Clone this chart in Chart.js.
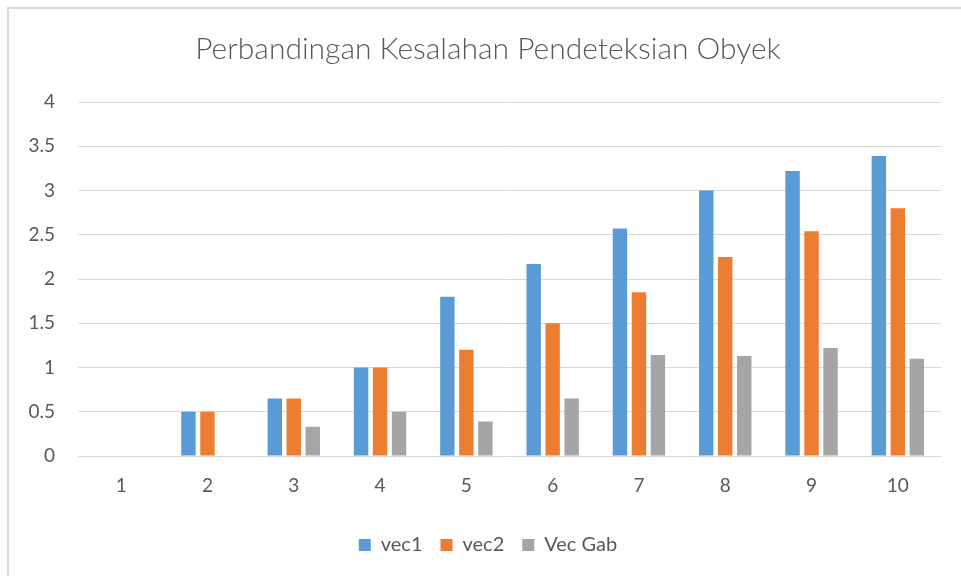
<!DOCTYPE html>
<html>
<head>
<meta charset="utf-8">
<script src="https://cdn.jsdelivr.net/npm/chart.js@4.4.1/dist/chart.umd.min.js"></script>
<style>
  html, body { margin: 0; padding: 0; width: 961px; height: 576px; overflow: hidden; background: #fff; }
  #frame { position: absolute; left: 7px; top: 7px; width: 980px; height: 600px;
           border-left: 2px solid #d9d9d9; border-top: 2px solid #d9d9d9; }
  #wrap { position: absolute; left: 9px; top: 9px; width: 958px; height: 567px; }
</style>
</head>
<body>
<div id="frame"></div>
<div id="wrap"><canvas id="c" width="958" height="567"></canvas></div>
<script>
const categories = ['1', '2', '3', '4', '5', '6', '7', '8', '9', '10'];
const vec1   = [0, 0.5, 0.65, 1.0, 1.8, 2.17, 2.57, 3.0, 3.22, 3.39];
const vec2   = [0, 0.5, 0.65, 1.0, 1.2, 1.5, 1.85, 2.25, 2.54, 2.8];
const vecGab = [0, 0, 0.33, 0.5, 0.39, 0.65, 1.14, 1.13, 1.22, 1.1];
const seriesNames = ['vec1', 'vec2', 'Vec Gab'];
const yTicks = [0, 0.5, 1, 1.5, 2, 2.5, 3, 3.5, 4];
const titleText = 'Perbandingan Kesalahan Pendeteksian Obyek';

const colors = ['#5B9BD5', '#ED7D31', '#A5A5A5'];
const fontFamily = 'Lato, "Open Sans", sans-serif';
const textColor = '#595959';

// let the y tick labels use the left margin (otherwise clipped to the axis box)
const widenYLabelArea = {
  id: 'widenYLabelArea',
  afterLayout(chart) { chart.scales.y.left = 0; }
};

new Chart(document.getElementById('c'), {
  type: 'bar',
  data: {
    labels: categories,
    datasets: [vec1, vec2, vecGab].map((d, i) => ({
      label: seriesNames[i],
      data: d,
      backgroundColor: colors[i],
      borderWidth: 0,
      categoryPercentage: 0.66,
      barPercentage: 0.76
    }))
  },
  plugins: [widenYLabelArea],
  options: {
    responsive: false,
    devicePixelRatio: 1,
    animation: false,
    layout: { padding: { left: 26, right: 26, top: 0, bottom: 11 } },
    plugins: {
      title: {
        display: true,
        text: titleText,
        color: textColor,
        font: { family: fontFamily, size: 30, weight: '300' },
        padding: { top: 22, bottom: 35 }
      },
      legend: {
        position: 'bottom',
        labels: {
          color: textColor,
          font: { family: fontFamily, size: 20 },
          boxWidth: 12, boxHeight: 12,
          padding: 18
        }
      },
      tooltip: { enabled: false }
    },
    scales: {
      x: {
        grid: { display: false, drawTicks: false },
        border: { display: false },
        ticks: { color: textColor, font: { family: fontFamily, size: 19 }, padding: 18 },
        afterFit: s => { s.height = 61; }
      },
      y: {
        min: 0, max: 4,
        afterBuildTicks: s => { s.ticks = yTicks.map(v => ({ value: v })); },
        grid: { color: '#d9d9d9', lineWidth: 1, drawTicks: false },
        border: { display: false },
        ticks: {
          color: textColor, font: { family: fontFamily, size: 19 }, padding: 23,
          callback: v => String(v)
        },
        afterFit: s => { s.width = 43; }
      }
    }
  }
});
</script>
</body>
</html>
